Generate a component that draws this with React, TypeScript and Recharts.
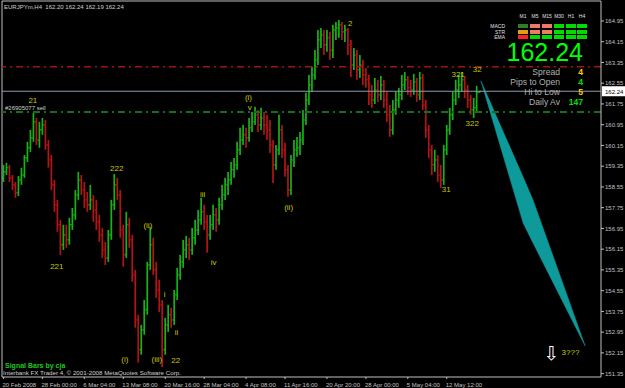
import React from "react"
import { ComposedChart, Bar, Area, Scatter, XAxis, YAxis, ReferenceLine } from "recharts"

const FONT = "'Liberation Sans', Arial, sans-serif"
const UP = "#14b414"
const DOWN = "#b41414"
const AXIS = "#c0c0c0"
const WAVE = "#c8c800"

const title = "EURJPYm,H4  162.20 162.24 162.19 162.24"

// H4 bars: open, high, low, close
const ohlc: [number, number, number, number][] = [
  [158.90, 159.40, 158.74, 159.13], [159.13, 159.48, 159.01, 159.29], [159.29, 159.40, 158.74, 158.90],
  [158.90, 159.01, 158.43, 158.63], [158.63, 158.74, 158.13, 158.32], [158.32, 158.97, 158.20, 158.82],
  [158.82, 159.29, 158.63, 159.01], [159.01, 159.78, 158.90, 159.67], [159.67, 160.29, 159.51, 160.06],
  [160.06, 160.75, 159.90, 160.44], [160.44, 161.40, 160.29, 161.06], [161.06, 161.21, 160.17, 160.36],
  [160.36, 161.06, 160.06, 160.75], [160.75, 161.21, 160.56, 160.94], [160.94, 161.13, 159.98, 160.17],
  [160.17, 160.36, 159.29, 159.59], [159.59, 159.78, 158.43, 158.63], [158.63, 158.82, 157.59, 157.86],
  [157.86, 158.05, 156.82, 157.09], [157.09, 157.28, 155.93, 156.32], [156.32, 157.09, 156.12, 156.70],
  [156.70, 157.09, 156.20, 156.51], [156.51, 157.36, 156.32, 157.09], [157.09, 157.74, 156.89, 157.47],
  [157.47, 158.43, 157.28, 158.24], [158.24, 159.13, 158.05, 158.82], [158.82, 159.01, 158.24, 158.43],
  [158.43, 158.74, 157.74, 158.05], [158.05, 158.36, 157.59, 157.86], [157.86, 158.63, 157.66, 158.05],
  [158.05, 158.24, 157.20, 157.66], [157.66, 158.05, 156.89, 157.20], [157.20, 157.47, 156.43, 156.70],
  [156.70, 156.97, 155.81, 156.12], [156.12, 156.43, 155.54, 155.81], [155.81, 156.89, 155.66, 156.70],
  [156.70, 158.05, 156.51, 157.86], [157.86, 159.05, 157.66, 158.63], [158.63, 158.90, 158.05, 158.24],
  [158.24, 158.43, 156.59, 156.89], [156.89, 157.09, 155.47, 155.93], [155.93, 157.59, 155.81, 157.09],
  [157.09, 157.36, 156.20, 156.51], [156.51, 156.70, 154.89, 155.16], [155.16, 155.35, 153.12, 153.42],
  [153.42, 153.62, 151.77, 152.27], [152.27, 153.23, 152.08, 153.04], [153.04, 154.19, 152.85, 153.81],
  [153.81, 155.66, 153.62, 155.54], [155.54, 157.01, 155.35, 156.32], [156.32, 156.59, 155.16, 155.35],
  [155.35, 155.66, 154.27, 154.58], [154.58, 154.97, 153.73, 154.00], [154.00, 154.19, 151.61, 152.27],
  [152.27, 153.50, 152.08, 153.23], [153.23, 154.00, 152.96, 153.62], [153.62, 153.89, 153.12, 153.42],
  [153.42, 154.58, 153.23, 154.39], [154.39, 155.43, 154.19, 155.16], [155.16, 155.93, 154.97, 155.66],
  [155.66, 156.51, 155.43, 156.12], [156.12, 156.66, 155.81, 156.32], [156.32, 156.59, 155.74, 156.12],
  [156.12, 156.97, 155.93, 156.59], [156.59, 157.28, 156.32, 156.89], [156.89, 157.66, 156.70, 157.28],
  [157.28, 158.13, 157.09, 157.59], [157.59, 157.86, 156.89, 157.20], [157.20, 157.47, 156.01, 156.70],
  [156.70, 157.47, 156.51, 157.09], [157.09, 157.86, 156.89, 157.47], [157.47, 157.74, 156.82, 157.28],
  [157.28, 158.13, 157.09, 157.86], [157.86, 158.63, 157.66, 158.24], [158.24, 158.90, 158.05, 158.63],
  [158.63, 159.13, 158.24, 158.82], [158.82, 159.51, 158.63, 159.21], [159.21, 159.67, 158.90, 159.40],
  [159.40, 160.29, 159.21, 159.98], [159.98, 160.83, 159.78, 160.36], [160.36, 160.94, 160.17, 160.56],
  [160.56, 160.83, 160.06, 160.44], [160.44, 161.21, 160.29, 160.83], [160.83, 161.44, 160.67, 161.06],
  [161.06, 161.64, 160.94, 161.33], [161.33, 161.52, 160.67, 160.94], [160.94, 161.60, 160.75, 161.21],
  [161.21, 161.44, 160.56, 160.94], [160.94, 161.33, 160.36, 160.75], [160.75, 161.13, 159.86, 160.17],
  [160.17, 160.36, 158.70, 159.40], [159.40, 160.17, 159.21, 159.98], [159.98, 161.33, 159.78, 160.75],
  [160.75, 160.94, 159.67, 159.98], [159.98, 160.25, 158.94, 159.21], [159.21, 159.40, 158.17, 158.43],
  [158.43, 159.78, 158.24, 159.59], [159.59, 160.36, 159.32, 159.98], [159.98, 160.48, 159.71, 160.06],
  [160.06, 160.67, 159.78, 160.36], [160.36, 161.52, 160.17, 161.13], [161.13, 162.18, 160.94, 161.90],
  [161.90, 162.87, 161.71, 162.48], [162.48, 163.18, 162.21, 162.87], [162.87, 163.83, 162.68, 163.45],
  [163.45, 164.60, 163.25, 164.22], [164.22, 164.68, 163.91, 164.41], [164.41, 164.60, 163.64, 164.03],
  [164.03, 164.60, 163.76, 164.30], [164.30, 164.53, 163.45, 163.83], [163.83, 164.80, 163.52, 164.60],
  [164.60, 164.91, 164.22, 164.68], [164.68, 164.99, 164.30, 164.80], [164.80, 164.91, 164.22, 164.53],
  [164.53, 164.80, 164.14, 164.60], [164.60, 164.68, 163.64, 164.03], [164.03, 164.22, 162.79, 163.25],
  [163.25, 163.91, 163.06, 163.64], [163.64, 163.83, 162.68, 163.06], [163.06, 163.64, 162.75, 163.25],
  [163.25, 163.45, 162.48, 162.87], [162.87, 163.14, 162.37, 162.68], [162.68, 162.87, 161.71, 162.10],
  [162.10, 162.48, 161.60, 161.90], [161.90, 162.75, 161.75, 162.29], [162.29, 162.68, 161.83, 162.10],
  [162.10, 162.83, 161.90, 162.48], [162.48, 162.68, 161.60, 161.90], [161.90, 162.21, 161.06, 161.33],
  [161.33, 161.71, 160.48, 160.75], [160.75, 161.90, 160.56, 161.52], [161.52, 162.21, 161.33, 161.90],
  [161.90, 162.37, 161.60, 162.10], [162.10, 162.87, 161.90, 162.48], [162.48, 162.98, 162.29, 162.68],
  [162.68, 162.83, 162.10, 162.37], [162.37, 162.68, 162.02, 162.29], [162.29, 162.91, 162.10, 162.60],
  [162.60, 162.75, 161.83, 162.10], [162.10, 162.98, 161.90, 162.75], [162.75, 162.91, 161.52, 161.71],
  [161.71, 161.90, 160.44, 160.75], [160.75, 160.94, 159.67, 159.98], [159.98, 160.17, 159.01, 159.40],
  [159.40, 159.98, 159.13, 159.59], [159.59, 159.78, 158.74, 159.01], [159.01, 159.40, 158.51, 158.82],
  [158.82, 160.17, 158.63, 159.98], [159.98, 160.94, 159.78, 160.75], [160.75, 161.60, 160.56, 161.33],
  [161.33, 162.21, 161.13, 161.90], [161.90, 162.68, 161.71, 162.29], [162.29, 162.87, 161.98, 162.48],
  [162.48, 162.98, 162.21, 162.68], [162.68, 162.83, 161.98, 162.29], [162.29, 162.48, 161.60, 161.90],
  [161.90, 162.10, 161.33, 161.52], [161.52, 161.98, 161.21, 161.60], [161.60, 162.45, 161.44, 162.20],
  [162.20, 162.24, 162.19, 162.24],
]

// projected wave 3 wedge (bar index, upper / lower price)
const projIdx = [159.4, 173.5, 176.8, 194.2]
const projHigh = [162.64, 158.93, 158.05, 152.42]
const projLow = [162.64, 157.16, 156.39, 152.42]

// Elliott wave labels
const waveText = ["21", "221", "222", "(i)", "(ii)", "(iii)", "22", "i", "ii", "iii", "iv", "(i)", "v", "(ii)", "2", "31", "321", "32", "322", "3???"]
const waveIdx = [9.8, 17.8, 37.8, 40.5, 48.2, 51.2, 57.5, 53.8, 57.8, 66.5, 70.2, 81.8, 82.2, 95.2, 115.8, 147.8, 151.8, 158.2, 156.5, 189.3]
const wavePrice = [161.90, 155.47, 159.25, 151.88, 157.05, 151.88, 151.84, 154.39, 152.92, 158.24, 155.62, 161.98, 161.63, 157.74, 164.87, 158.47, 162.87, 163.06, 160.98, 152.15]

const arrowIdx = [182.9]
const arrowPrice = [152.15]

const dateTicks = [0, 13, 27, 40, 54, 67, 81, 94, 108, 121, 135, 148]
const dateLabels = ["20 Feb 2008", "28 Feb 00:00", "6 Mar 04:00", "13 Mar 08:00", "20 Mar 16:00", "28 Mar 04:00",
  "4 Apr 08:00", "11 Apr 16:00", "20 Apr 20:00", "28 Apr 00:00", "5 May 04:00", "12 May 12:00"]

const priceTicks = [164.95, 164.15, 163.35, 162.55, 161.75, 160.95, 160.15, 159.35, 158.55, 157.75,
  156.95, 156.15, 155.35, 154.55, 153.75, 152.95, 152.15, 151.35]

const lastPrice = 162.24
const redLevel = 163.18
const greenLevel = 161.44

// signal bars panel
const tfNames = ["M1", "M5", "M15", "M30", "H1", "H4"]
const rowNames = ["MACD", "STR", "EMA"]
const rowColors = [
  ["#2e7d2e", "#f07868", "#f07868", "#00dc00", "#00dc00", "#00dc00"],
  ["#e0a010", "#f07868", "#f07868", "#00dc00", "#00dc00", "#00dc00"],
  ["#ff2020", "#00dc00", "#00dc00", "#00dc00", "#00dc00", "#00dc00"],
]
const infoNames = ["Spread", "Pips to Open", "Hi to Low", "Daily Av"]
const infoValues = ["4", "4", "5", "147"]
const infoColors = ["#ffcc00", "#00e000", "#ffcc00", "#00e000"]

const data = ohlc.map(([o, h, l, c], i) => ({ i, o, h, l, c, range: [l, h] }))
const proj = projIdx.map((i, k) => ({ i, band: [projLow[k], projHigh[k]] }))
const waves = waveText.map((t, k) => ({ i: waveIdx[k], p: wavePrice[k], t }))
const arrows = arrowIdx.map((i, k) => ({ i, p: arrowPrice[k] }))

function OhlcShape(props: any) {
  const { x, y, width, height, payload } = props
  if (x == null || !payload) return null
  const { o, h, l, c } = payload
  const top = Math.min(y, y + height)
  const hh = Math.abs(height)
  const span = h - l || 1
  const cx = x + width / 2
  const oy = top + ((h - o) / span) * hh
  const cy = top + ((h - c) / span) * hh
  const col = c >= o ? UP : DOWN
  return (
    <g stroke={col}>
      <line x1={cx} x2={cx} y1={top} y2={top + Math.max(hh, 1)} strokeWidth={1.7} />
      <line x1={cx - 1.6} x2={cx} y1={oy} y2={oy} strokeWidth={1} />
      <line x1={cx} x2={cx + 1.6} y1={cy} y2={cy} strokeWidth={1} />
    </g>
  )
}

function WaveLabel(props: any) {
  const { cx, cy, payload } = props
  if (cx == null) return null
  return (
    <text x={cx} y={cy} fill={WAVE} fontSize={8} fontFamily={FONT} textAnchor="middle" dominantBaseline="central">
      {payload.t}
    </text>
  )
}

function ArrowMark(props: any) {
  const { cx, cy } = props
  if (cx == null) return null
  return (
    <text x={cx} y={cy} fill="#ffffff" fontSize={19} fontFamily="'DejaVu Sans', sans-serif" textAnchor="middle" dominantBaseline="central">
      ⇩
    </text>
  )
}

function DateTick(props: any) {
  const { x, payload } = props
  const k = dateTicks.indexOf(payload.value)
  return (
    <text x={x - 1} y={387} fill={AXIS} fontSize={6} fontFamily={FONT}>
      {dateLabels[k]}
    </text>
  )
}

function PriceBox(props: any) {
  const vb = props.viewBox
  if (!vb) return null
  const x0 = vb.x + vb.width + 1
  return (
    <g>
      <rect x={x0} y={vb.y - 5} width={23} height={10} fill="#ffffff" />
      <text x={x0 + 3} y={vb.y + 2.5} fontSize={6} fontFamily={FONT} fill="#000">
        {lastPrice.toFixed(2)}
      </text>
    </g>
  )
}

function Overlay() {
  const colX = [518, 530, 542, 554, 566, 577]
  const rowY = [24, 30, 35]
  return (
    <svg width={625} height={388} style={{ position: "absolute", left: 0, top: 0, pointerEvents: "none" }}>
      <text x={4} y={9} fill="#d0d0d0" fontSize={6} fontFamily={FONT} style={{ whiteSpace: "pre" }}>{title}</text>
      {tfNames.map((t, k) => (
        <text key={t} x={colX[k] + 5} y={18} fill="#e0e0e0" fontSize={5} fontFamily={FONT} textAnchor="middle">{t}</text>
      ))}
      {rowNames.map((r, j) => (
        <g key={r}>
          <text x={505} y={rowY[j] + 4} fill="#e0e0e0" fontSize={5} fontFamily={FONT} textAnchor="end">{r}</text>
          {rowColors[j].map((c, k) => (
            <rect key={k} x={colX[k]} y={rowY[j]} width={10} height={4} fill={c} />
          ))}
        </g>
      ))}
      <text x={583} y={61} fill="#00ff00" fontSize={25} fontFamily={FONT} textAnchor="end">162.24</text>
      {infoNames.map((n, k) => (
        <g key={n}>
          <text x={560} y={74.5 + k * 10} fill="#b0b0b0" fontSize={8.6} fontFamily={FONT} textAnchor="end">{n}</text>
          <text x={583} y={74.5 + k * 10} fill={infoColors[k]} fontSize={8.6} fontWeight="bold" fontFamily={FONT} textAnchor="end">{infoValues[k]}</text>
        </g>
      ))}
      <text x={5} y={110} fill="#d0d0d0" fontSize={6} fontFamily={FONT}>#26905077 sell</text>
      <text x={5} y={368} fill="#1ec81e" fontSize={7} fontWeight="bold" fontFamily={FONT}>Signal Bars by cja</text>
      <text x={3} y={375} fill="#d0d0d0" fontSize={6.2} fontFamily={FONT}>Interbank FX Trader 4, © 2001-2008 MetaQuotes Software Corp.</text>
    </svg>
  )
}

export default function App() {
  return (
    <div style={{ position: "absolute", left: 0, top: 0, width: 625, height: 388, background: "#000", overflow: "hidden" }}>
      <ComposedChart width={625} height={388} data={data} margin={{ top: 1, right: 0, bottom: 0, left: 2 }}>
        <XAxis
          dataKey="i"
          type="number"
          domain={[-0.5, 199.5]}
          allowDataOverflow
          ticks={dateTicks}
          interval={0}
          tick={(p: any) => <DateTick {...p} />}
          tickSize={2}
          height={11}
          axisLine={{ stroke: AXIS }}
          tickLine={{ stroke: AXIS }}
        />
        <YAxis
          orientation="right"
          type="number"
          domain={[151.22, 165.72]}
          allowDataOverflow
          ticks={priceTicks}
          interval={0}
          width={24}
          tickSize={3}
          tickMargin={1}
          tick={{ fill: AXIS, fontSize: 6, fontFamily: FONT }}
          tickFormatter={(v: number) => v.toFixed(2)}
          axisLine={{ stroke: AXIS }}
          tickLine={{ stroke: AXIS }}
        />
        <ReferenceLine y={165.72} stroke={AXIS} />
        <ReferenceLine x={-0.5} stroke={AXIS} />
        <Bar dataKey="range" barSize={3} shape={(p: any) => <OhlcShape {...p} />} isAnimationActive={false} />
        <ReferenceLine y={redLevel} stroke="#a01414" strokeWidth={1.5} strokeDasharray="7 4 2 4" />
        <ReferenceLine y={greenLevel} stroke="#146e14" strokeWidth={2} strokeDasharray="7 4 2 4" />
        <ReferenceLine y={lastPrice} stroke="#8e9ab0" strokeWidth={1.2} label={{ content: (p: any) => <PriceBox {...p} /> }} />
        <Area
          data={proj}
          dataKey="band"
          type="linear"
          fill="#0e9a9a"
          fillOpacity={1}
          stroke="#0e9a9a"
          strokeWidth={0.5}
          dot={false}
          activeDot={false}
          isAnimationActive={false}
        />
        <Scatter data={waves} dataKey="p" shape={(p: any) => <WaveLabel {...p} />} isAnimationActive={false} />
        <Scatter data={arrows} dataKey="p" shape={(p: any) => <ArrowMark {...p} />} isAnimationActive={false} />
      </ComposedChart>
      <Overlay />
    </div>
  )
}
